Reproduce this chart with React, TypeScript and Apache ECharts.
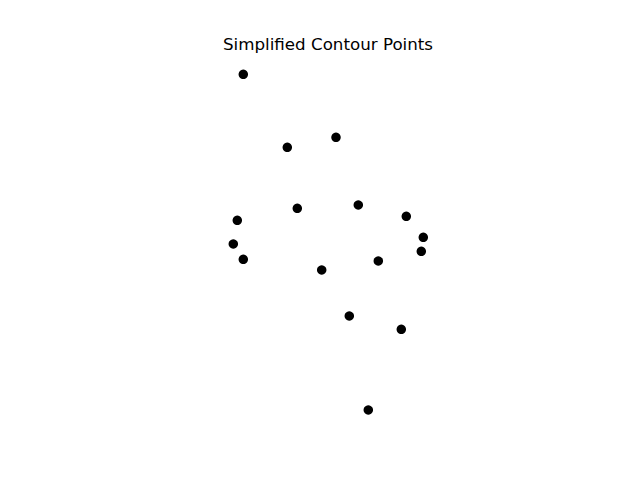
import React, { useEffect, useRef } from "react";
import * as echarts from "echarts";

const pointX = [243.3, 336, 287.3, 297.3, 358.3, 406.3, 237.3, 423.3, 233.3, 421.3, 243.3, 378.3, 321.7, 349.3, 401.3, 368.3];
const pointY = [74.3, 137.3, 147.3, 208.3, 205, 216.3, 220.3, 237.3, 244, 251.3, 259.3, 261, 270, 316, 329.3, 410];
const chartTitle = "Simplified Contour Points";

export default function App() {
  const ref = useRef<HTMLDivElement>(null);
  useEffect(() => {
    if (!ref.current) return;
    const chart = echarts.init(ref.current, undefined, { renderer: "svg" });
    const data = pointX.map((x, i) => [x, pointY[i]]);
    chart.setOption({
      animation: false,
      backgroundColor: "#ffffff",
      graphic: [
        {
          type: "text",
          x: 328,
          y: 44,
          style: {
            text: chartTitle,
            fontFamily: "DejaVu Sans",
            fontSize: 16.7,
            fill: "#000",
            align: "center",
            verticalAlign: "middle",
          },
        },
      ],
      grid: { left: 80, top: 57.6, width: 496, height: 369.6, containLabel: false },
      xAxis: { type: "value", min: 80, max: 576, show: false },
      yAxis: { type: "value", min: 57.6, max: 427.2, inverse: true, show: false },
      series: [
        {
          type: "scatter",
          data,
          symbol: "circle",
          symbolSize: 9.5,
          itemStyle: { color: "#000000", opacity: 1 },
        },
      ],
    });
    return () => chart.dispose();
  }, []);
  return <div ref={ref} style={{ width: 640, height: 480, position: "absolute", left: 0, top: 0 }} />;
}
